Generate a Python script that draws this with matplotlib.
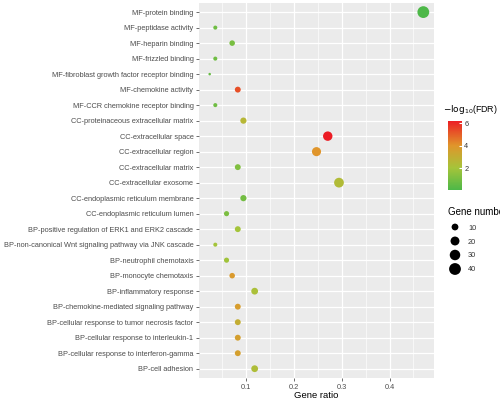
import matplotlib
matplotlib.use("Agg")
import matplotlib.pyplot as plt
import numpy as np
from matplotlib.colors import LinearSegmentedColormap, Normalize

plt.rcParams['font.family'] = ['Liberation Sans', 'DejaVu Sans']

# --- data ---
terms = [
    "MF-protein binding",
    "MF-peptidase activity",
    "MF-heparin binding",
    "MF-frizzled binding",
    "MF-fibroblast growth factor receptor binding",
    "MF-chemokine activity",
    "MF-CCR chemokine receptor binding",
    "CC-proteinaceous extracellular matrix",
    "CC-extracellular space",
    "CC-extracellular region",
    "CC-extracellular matrix",
    "CC-extracellular exosome",
    "CC-endoplasmic reticulum membrane",
    "CC-endoplasmic reticulum lumen",
    "BP-positive regulation of ERK1 and ERK2 cascade",
    "BP-non-canonical Wnt signaling pathway via JNK cascade",
    "BP-neutrophil chemotaxis",
    "BP-monocyte chemotaxis",
    "BP-inflammatory response",
    "BP-chemokine-mediated signaling pathway",
    "BP-cellular response to tumor necrosis factor",
    "BP-cellular response to interleukin-1",
    "BP-cellular response to interferon-gamma",
    "BP-cell adhesion",
]
gene_number = [40, 3, 6, 3, 2, 7, 3, 8, 23, 21, 7, 25, 8, 5, 7, 3, 5, 6, 10, 7, 7, 7, 7, 10]
total_genes = 85
gene_ratio = [n / total_genes for n in gene_number]
neg_log_fdr = [0.04, 0.8, 1.0, 0.8, 0.6, 5.3, 0.8, 2.6, 6.25, 4.0, 1.2, 2.4,
               0.9, 1.1, 2.0, 2.0, 1.9, 3.8, 2.2, 3.7, 3.0, 3.6, 3.6, 2.3]
size_breaks = [10, 20, 30, 40]
cbar_ticks = [2, 4, 6]

# ggplot-like area scale: diameter 1..6 units, 1 unit ~ 1.9 px
n_min, n_max = min(gene_number), max(gene_number)
def marker_area(n):
    d_px = 0.7 + 1.85 * (1 + 5 * np.sqrt((np.asarray(n, float) - n_min) / (n_max - n_min)))
    return (d_px * 0.72) ** 2

cmap = LinearSegmentedColormap.from_list(
    "fdr", [(0.0, "#4DB848"), (0.32, "#A6C43A"), (0.64, "#E0952B"), (1.0, "#EC1C24")])
norm = Normalize(vmin=min(neg_log_fdr), vmax=max(neg_log_fdr))

fig = plt.figure(figsize=(5, 4), dpi=100)
ax = fig.add_axes([0.398, 0.055, 0.47, 0.938])
ax.set_facecolor("#EBEBEB")

ypos = np.arange(len(terms))
ax.scatter(gene_ratio, ypos, s=marker_area(gene_number), c=neg_log_fdr,
           cmap=cmap, norm=norm, linewidths=0, zorder=3)

ax.set_ylim(len(terms) - 1 + 0.6, -0.6)
span = max(gene_ratio) - min(gene_ratio)
ax.set_xlim(min(gene_ratio) - 0.05 * span, max(gene_ratio) + 0.05 * span)

ax.set_yticks(ypos)
ax.set_yticklabels(terms)
ax.set_xticks([0.1, 0.2, 0.3, 0.4])
ax.set_xticklabels(["0.1", "0.2", "0.3", "0.4"])
ax.set_xticks([0.05, 0.15, 0.25, 0.35, 0.45], minor=True)
ax.tick_params(axis="both", which="major", labelsize=5.3, labelcolor="#4D4D4D",
               color="#333333", length=2.5, width=0.5, pad=1.5)
ax.tick_params(axis="x", which="minor", length=0)
ax.grid(True, which="major", color="white", linewidth=0.9, zorder=0)
ax.grid(True, which="minor", axis="x", color="white", linewidth=0.45, zorder=0)
ax.set_axisbelow(True)
for sp in ax.spines.values():
    sp.set_visible(False)
ax.set_xlabel("Gene ratio", fontsize=6.8, labelpad=0.5)

# colour legend
cax = fig.add_axes([448 / 500, 1 - 190 / 400, 13.5 / 500, 69.5 / 400])
sm = matplotlib.cm.ScalarMappable(norm=norm, cmap=cmap)
cb = fig.colorbar(sm, cax=cax, ticks=cbar_ticks)
cb.outline.set_visible(False)
cb.ax.tick_params(labelsize=5.3, labelcolor="#333333", length=2, color="white",
                  direction="in", pad=2)
fig.text(443 / 500, 1 - 110 / 400, r"$-\mathrm{log}_{10}$(FDR)", fontsize=6.4,
         va="center", ha="left")

# size legend (title runs off the right edge, as in the original)
fig.text(448 / 500, 1 - 212 / 400, "Gene number", fontsize=7, va="center", ha="left")
lax = fig.add_axes([445 / 500, 1 - 276 / 400, 20 / 500, 56 / 400])
lax.set_xlim(-1, 1)
lax.set_ylim(len(size_breaks) - 0.5, -0.5)
lax.axis("off")
lax.scatter([0] * len(size_breaks), range(len(size_breaks)),
            s=marker_area(size_breaks), color="black", linewidths=0)
for i, b in enumerate(size_breaks):
    fig.text(468 / 500, 1 - (228.3 + i * 13.8) / 400, str(b), fontsize=5.3,
             va="center", ha="left", color="#333333")

fig.savefig("out.png", dpi=100)
